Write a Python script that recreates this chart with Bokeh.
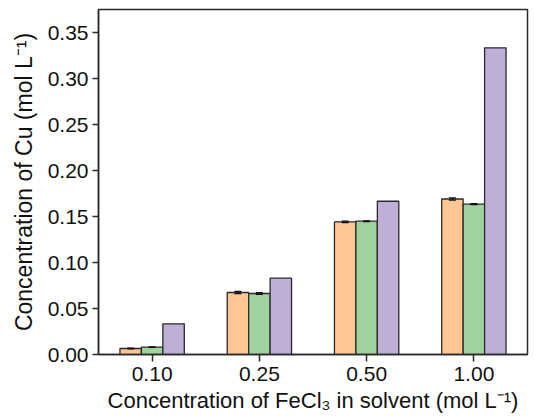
from bokeh.plotting import figure
from bokeh.models import (FactorRange, Range1d, ColumnDataSource, Whisker, TeeHead,
                          FixedTicker, NumeralTickFormatter)
from bokeh.transform import dodge
from bokeh.embed import file_html
from bokeh.resources import INLINE

# ---- data ----
conc = ["0.10", "0.25", "0.50", "1.00"]
s1 = [0.0065, 0.0674, 0.1441, 0.1690]
s2 = [0.0080, 0.0663, 0.1449, 0.1634]
s3 = [0.0333, 0.0830, 0.1666, 0.3333]
e1 = [0.0005, 0.0012, 0.0008, 0.0012]
e2 = [0.0004, 0.0010, 0.0005, 0.0006]
y_ticks = [0.0, 0.05, 0.10, 0.15, 0.20, 0.25, 0.30, 0.35]
x_title = "Concentration of FeCl\u2083 in solvent (mol L\u207b\u00b9)"
y_title = "Concentration of Cu (mol L\u207b\u00b9)"

colors = ["#FDC693", "#9FD29C", "#BFAFD7"]
EDGE = "#2a2a2a"
FONT = "Liberation Sans"

W, H = 534, 416
L, R, T, B = 98, 7, 9, 62
YMAX = 0.375

src = ColumnDataSource(dict(
    conc=conc, s1=s1, s2=s2, s3=s3,
    u1=[a + b for a, b in zip(s1, e1)], l1=[a - b for a, b in zip(s1, e1)],
    u2=[a + b for a, b in zip(s2, e2)], l2=[a - b for a, b in zip(s2, e2)],
))

p = figure(width=W, height=H, x_range=FactorRange(*conc, range_padding=0),
           y_range=Range1d(0, YMAX), output_backend="svg", toolbar_location=None,
           min_border_left=L, min_border_right=R, min_border_top=T, min_border_bottom=B)
p.background_fill_color = "white"
p.border_fill_color = "white"
p.outline_line_color = EDGE
p.outline_line_width = 1.5
p.outline_line_alpha = 1.0
p.xgrid.visible = False
p.ygrid.visible = False

for ax in (p.xaxis[0], p.yaxis[0]):
    ax.axis_line_color = EDGE
    ax.axis_line_width = 1.5
    ax.major_tick_line_color = EDGE
    ax.major_tick_line_width = 1.5
    ax.major_tick_in = 0
    ax.minor_tick_line_color = None
    ax.major_label_text_font = FONT
    ax.major_label_text_font_size = "21px"
    ax.major_label_text_color = "#111111"
    ax.axis_label_text_font = FONT
    ax.axis_label_text_font_style = "normal"
    ax.axis_label_text_color = "#111111"
p.xaxis.major_tick_out = 7
p.yaxis.major_tick_out = 6
p.yaxis.ticker = FixedTicker(ticks=y_ticks)
p.yaxis.formatter = NumeralTickFormatter(format="0.00")
p.yaxis.major_label_standoff = 4
p.xaxis.major_label_standoff = 5

p.xaxis.axis_label = x_title
p.xaxis.axis_label_text_font_size = "22px"
p.xaxis.axis_label_standoff = 4
p.yaxis.axis_label = y_title
p.yaxis.axis_label_text_font_size = "23px"
p.yaxis.axis_label_standoff = 8

offs = [-0.2, 0.0, 0.2]
for i, (col, off) in enumerate(zip(["s1", "s2", "s3"], offs)):
    p.vbar(x=dodge("conc", off, range=p.x_range), top=col, bottom=0, width=0.2,
           fill_color=colors[i], line_color=EDGE, line_width=1.3, source=src)

for (u, l, off) in [("u1", "l1", -0.2), ("u2", "l2", 0.0)]:
    w = Whisker(base=dodge("conc", off, range=p.x_range), upper=u, lower=l, source=src,
                line_color="#111111", line_width=1.2, level="overlay",
                upper_head=TeeHead(size=7, line_color="#111111", line_width=1.2),
                lower_head=TeeHead(size=7, line_color="#111111", line_width=1.2))
    p.add_layout(w)

open("out.html", "w").write(file_html(p, INLINE))
